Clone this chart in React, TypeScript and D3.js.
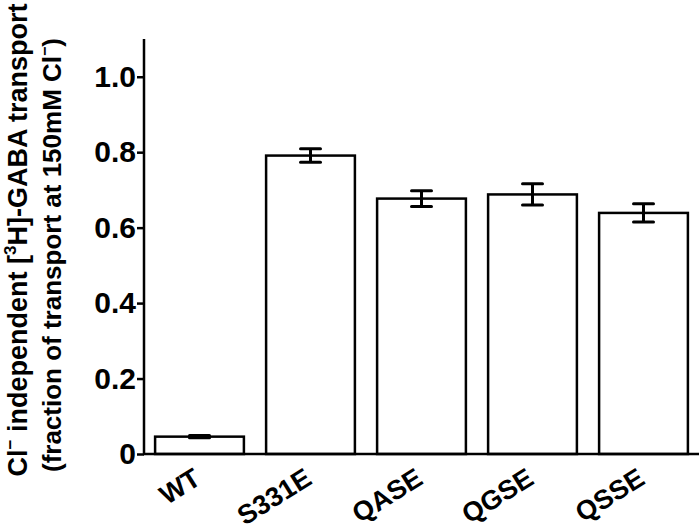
import React, { useRef, useEffect } from 'react';
import * as d3 from 'd3';

const categories = ['WT', 'S331E', 'QASE', 'QGSE', 'QSSE'];
const means = [0.046, 0.791, 0.677, 0.688, 0.639];
const errors = [0.003, 0.018, 0.021, 0.028, 0.024];
const yTicks = [0, 0.2, 0.4, 0.6, 0.8, 1.0];

const App = () => {
  const svgRef = useRef<SVGSVGElement>(null);

  useEffect(() => {
    const width = 700;
    const height = 531;
    const left = 144;
    const right = 699;
    const top = 39;
    const bottom = 454;
    const font = 'Arial, "Liberation Sans", sans-serif';

    const svg = d3.select(svgRef.current);
    svg.selectAll('*').remove();
    svg.attr('width', width).attr('height', height);

    const x = d3.scaleBand<string>()
      .domain(categories)
      .range([left, right])
      .paddingInner(0.2)
      .paddingOuter(0.1);

    const y = d3.scaleLinear().domain([0, 1.1]).range([bottom, top]);

    // bars
    svg.selectAll('.bar')
      .data(categories)
      .enter().append('rect')
      .attr('class', 'bar')
      .attr('x', d => x(d)!)
      .attr('y', (d, i) => y(means[i]))
      .attr('width', x.bandwidth())
      .attr('height', (d, i) => y(0) - y(means[i]))
      .attr('fill', '#fff')
      .attr('stroke', '#000')
      .attr('stroke-width', 2.5);

    // error bars
    const cap = 10;
    const eb = svg.append('g').attr('stroke', '#000').attr('stroke-width', 3);
    categories.forEach((c, i) => {
      const cx = x(c)! + x.bandwidth() / 2;
      const hi = y(means[i] + errors[i]);
      const lo = y(means[i] - errors[i]);
      eb.append('line').attr('x1', cx).attr('x2', cx).attr('y1', hi).attr('y2', lo);
      eb.append('line').attr('x1', cx - cap).attr('x2', cx + cap).attr('y1', hi).attr('y2', hi)
        .attr('stroke-linecap', 'round');
      eb.append('line').attr('x1', cx - cap).attr('x2', cx + cap).attr('y1', lo).attr('y2', lo)
        .attr('stroke-linecap', 'round');
    });

    // y axis
    const yAxis = svg.append('g')
      .attr('transform', `translate(${left},0)`)
      .call(d3.axisLeft(y).tickValues(yTicks).tickSize(7).tickSizeOuter(0)
        .tickFormat(d => (+d === 0 ? '0' : (+d).toFixed(1))));
    yAxis.select('.domain').remove();
    yAxis.selectAll('.tick line').attr('stroke-width', 2.5);
    yAxis.selectAll('.tick text')
      .attr('x', -8)
      .style('font-family', font)
      .style('font-size', '30px')
      .style('font-weight', 'bold')
      .attr('fill', '#000');
    svg.append('line')
      .attr('x1', left).attr('x2', left).attr('y1', top).attr('y2', bottom + 1)
      .attr('stroke', '#000').attr('stroke-width', 2.5);

    // x axis
    svg.append('line')
      .attr('x1', left - 1).attr('x2', right).attr('y1', bottom).attr('y2', bottom)
      .attr('stroke', '#000').attr('stroke-width', 2.5);

    svg.selectAll('.xlabel')
      .data(categories)
      .enter().append('text')
      .attr('class', 'xlabel')
      .attr('transform', d => `translate(${x(d)! + x.bandwidth() / 2 + 3},${bottom + 29}) rotate(-32)`)
      .attr('text-anchor', 'end')
      .style('font-family', font)
      .style('font-size', '27px')
      .style('font-weight', 'bold')
      .text(d => d);

    // y title
    const title1 = svg.append('text')
      .attr('transform', 'translate(27,240) rotate(-90)')
      .attr('text-anchor', 'middle')
      .style('font-family', font)
      .style('font-size', '27px')
      .style('font-weight', 'bold');
    title1.append('tspan').text('Cl');
    title1.append('tspan').attr('dy', -11).style('font-size', '17px').text('−');
    title1.append('tspan').attr('dy', 11).text(' independent [');
    title1.append('tspan').attr('dy', -11).style('font-size', '17px').text('3');
    title1.append('tspan').attr('dy', 11).text('H]-GABA transport');

    const title2 = svg.append('text')
      .attr('transform', 'translate(61,255) rotate(-90)')
      .attr('text-anchor', 'middle')
      .style('font-family', font)
      .style('font-size', '26px')
      .style('font-weight', 'bold');
    title2.append('tspan').text('(fraction of transport at 150mM Cl');
    title2.append('tspan').attr('dy', -11).style('font-size', '16px').text('−');
    title2.append('tspan').attr('dy', 11).text(')');
  }, []);

  return (
    <svg ref={svgRef} style={{ position: 'absolute', left: 0, top: 0, background: '#fff' }}></svg>
  );
};

export default App;
